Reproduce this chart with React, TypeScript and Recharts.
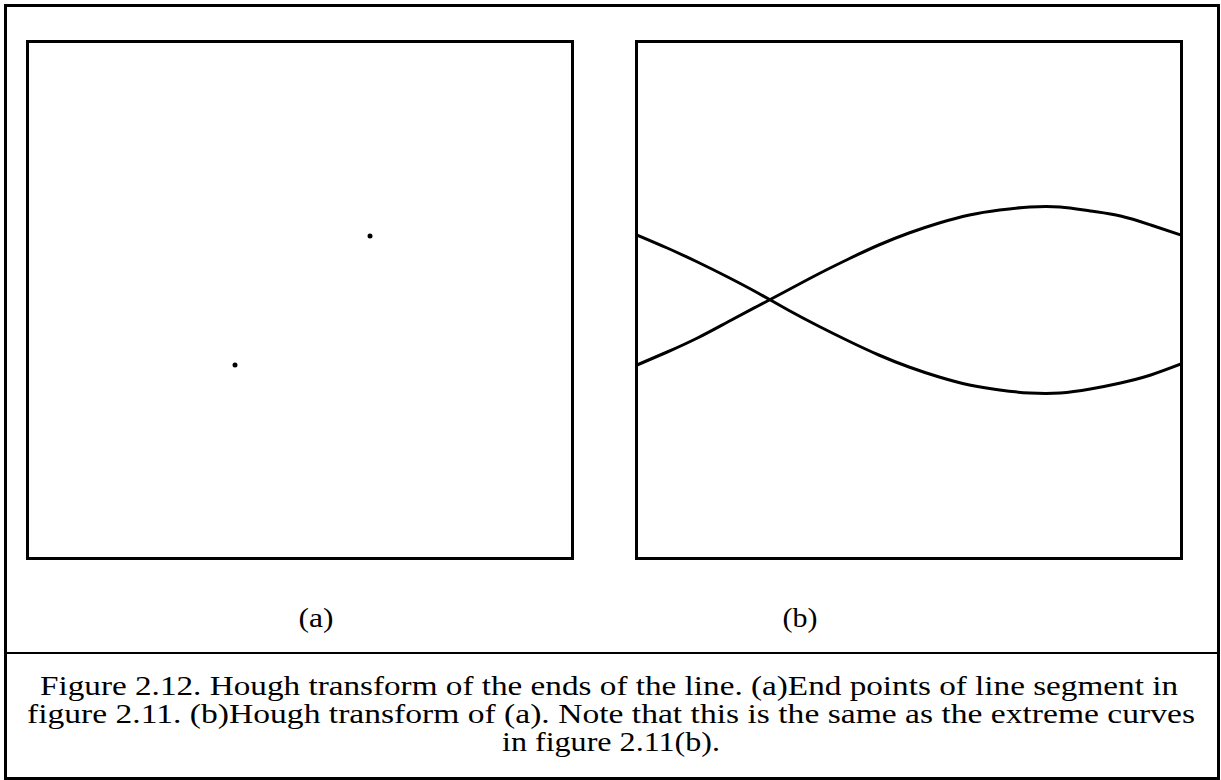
import { LineChart, Line, ScatterChart, Scatter, XAxis, YAxis } from "recharts";

// theta in degrees across the Hough plane, rho in pixels from the image centre
const thetaDeg = [0, 10, 20, 30, 40, 50, 60, 70, 80, 90, 100, 110, 120, 130, 140, 150, 160, 170, 180];
const rhoFirstEnd = [-65, -52, -38, -22, -6, 10, 26, 41, 55, 67, 77, 85, 90, 93, 93, 89, 84, 75, 65];
const rhoSecondEnd = [65, 52, 38, 23, 7, -10, -26, -41, -55, -67, -77, -85, -90, -93, -93, -89, -83, -75, -64];

// end points of the segment, image pixels (origin top-left)
const endPointX = [342, 207];
const endPointY = [194, 323];

const panelLabels = ["(a)", "(b)"];
const captionLines = [
  "Figure 2.12. Hough transform of the ends of the line. (a)End points of line segment in",
  "figure 2.11. (b)Hough transform of (a). Note that this is the same as the extreme curves",
  "in figure 2.11(b).",
];

const PANEL_W = 544;
const PANEL_H = 516;

const houghData = thetaDeg.map((t, i) => ({ theta: t, a: rhoFirstEnd[i], b: rhoSecondEnd[i] }));
const pointData = endPointX.map((x, i) => ({ x, y: endPointY[i] }));

const serif = "Liberation Serif, Times New Roman, serif";

const abs = (left: number, top: number, width: number, height: number) => ({
  position: "absolute" as const,
  left,
  top,
  width,
  height,
  boxSizing: "border-box" as const,
});

const Dot = (props: any) => <circle cx={props.cx} cy={props.cy} r={2.5} fill="#000" />;

// caption lines: centre x, baseline, stretched width
const captionLayout = [
  { x: 609, y: 695, len: 1138 },
  { x: 611, y: 723, len: 1168 },
  { x: 611, y: 751, len: 218 },
];
const labelLayout = [
  { x: 316, y: 627 },
  { x: 800, y: 627 },
];

const App = () => {
  return (
    <div style={{ position: "absolute", left: 0, top: 0, width: 1221, height: 780, background: "#fff", fontFamily: serif }}>
      {/* outer frame and caption divider */}
      <div style={{ ...abs(4, 4, 1216, 776), border: "3px solid #000" }} />
      <div style={{ ...abs(4, 652, 1216, 2), background: "#000" }} />

      {/* (a) end points */}
      <div style={abs(28, 42, PANEL_W, PANEL_H)}>
        <ScatterChart width={PANEL_W} height={PANEL_H} margin={{ top: 0, right: 0, bottom: 0, left: 0 }}>
          <XAxis type="number" dataKey="x" domain={[0, PANEL_W]} hide />
          <YAxis type="number" dataKey="y" domain={[0, PANEL_H]} reversed hide />
          <Scatter data={pointData} shape={Dot} isAnimationActive={false} />
        </ScatterChart>
      </div>
      <div style={{ ...abs(26, 40, PANEL_W + 4, PANEL_H + 4), border: "3px solid #000" }} />

      {/* (b) Hough transform */}
      <div style={abs(637, 42, PANEL_W, PANEL_H)}>
        <LineChart width={PANEL_W} height={PANEL_H} data={houghData} margin={{ top: 0, right: 0, bottom: 0, left: 0 }}>
          <XAxis type="number" dataKey="theta" domain={[0, 180]} hide />
          <YAxis type="number" domain={[-PANEL_H / 2, PANEL_H / 2]} hide />
          <Line type="natural" dataKey="a" stroke="#000" strokeWidth={3} dot={false} isAnimationActive={false} />
          <Line type="natural" dataKey="b" stroke="#000" strokeWidth={3} dot={false} isAnimationActive={false} />
        </LineChart>
      </div>
      <div style={{ ...abs(635, 40, PANEL_W + 4, PANEL_H + 4), border: "3px solid #000" }} />

      {/* labels and caption */}
      <svg width={1221} height={780} style={{ position: "absolute", left: 0, top: 0, pointerEvents: "none" }}>
        {panelLabels.map((t, i) => (
          <text
            key={t}
            x={labelLayout[i].x}
            y={labelLayout[i].y}
            textAnchor="middle"
            fontFamily={serif}
            fontSize={28}
            textLength={35}
            lengthAdjust="spacingAndGlyphs"
            fill="#000"
          >
            {t}
          </text>
        ))}
        {captionLines.map((t, i) => (
          <text
            key={t}
            x={captionLayout[i].x}
            y={captionLayout[i].y}
            textAnchor="middle"
            fontFamily={serif}
            fontSize={27}
            textLength={captionLayout[i].len}
            lengthAdjust="spacingAndGlyphs"
            fill="#000"
          >
            {t}
          </text>
        ))}
      </svg>
    </div>
  );
};

export default App;
